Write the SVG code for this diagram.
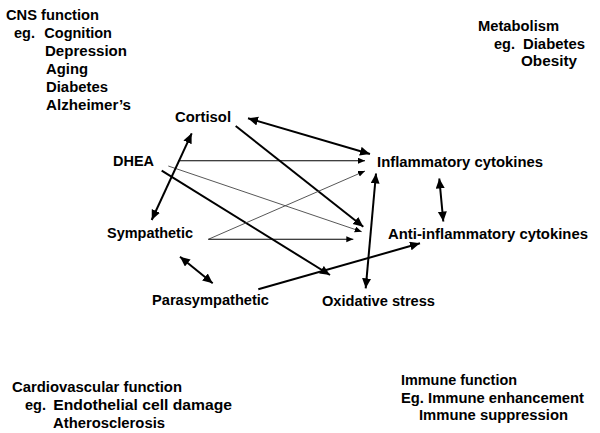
<svg xmlns="http://www.w3.org/2000/svg" width="600" height="433" viewBox="0 0 600 433">
<style>
text{font-family:"Liberation Sans",Arial,Helvetica,sans-serif;font-weight:bold;font-size:14.5px;fill:#000}
.thick{stroke:#000;stroke-width:2;fill:none}
.thin{stroke:#000;stroke-width:1.1;fill:none}
.gray{stroke:#444;stroke-width:0.9;fill:none}
</style>
<defs>
<marker id="ah" markerUnits="userSpaceOnUse" markerWidth="11" markerHeight="10" refX="10" refY="4.5" orient="auto-start-reverse"><path d="M0,0 L10,4.5 L0,9 z" fill="#000"/></marker>
<marker id="as" markerUnits="userSpaceOnUse" markerWidth="8" markerHeight="7" refX="7" refY="3" orient="auto"><path d="M0,0 L7,3 L0,6 z" fill="#000"/></marker>
</defs>
<rect width="600" height="433" fill="#fff"/>
<g id="connectors">
<line class="thick" x1="248" y1="118.3" x2="370" y2="154" marker-start="url(#ah)" marker-end="url(#ah)"/>
<line class="thick" x1="235.7" y1="126" x2="363.3" y2="226.7" marker-end="url(#ah)"/>
<line class="thin" x1="178.3" y1="160.7" x2="365" y2="160.7" marker-end="url(#as)"/>
<line class="gray" x1="168.3" y1="166" x2="361.7" y2="231.7" marker-end="url(#as)"/>
<line class="thick" x1="161.7" y1="170.7" x2="330" y2="275" marker-end="url(#ah)"/>
<line class="thick" x1="191.7" y1="133.3" x2="151.7" y2="220" marker-start="url(#ah)" marker-end="url(#ah)"/>
<line class="gray" x1="208.3" y1="239.3" x2="365" y2="171" marker-end="url(#as)"/>
<line class="thin" x1="208.3" y1="239.3" x2="353.3" y2="239.3" marker-end="url(#as)"/>
<line class="thick" x1="180" y1="256.7" x2="212.7" y2="283.3" marker-start="url(#ah)" marker-end="url(#ah)"/>
<line class="thick" x1="258.3" y1="289.3" x2="420" y2="243.3" marker-end="url(#ah)"/>
<line class="thick" x1="376" y1="173.5" x2="365.7" y2="288.3" marker-start="url(#ah)" marker-end="url(#ah)"/>
<line class="thick" x1="439.3" y1="178.5" x2="443.3" y2="221.5" marker-start="url(#ah)" marker-end="url(#ah)"/>
</g>
<g id="cortisol"><text x="175" y="121.7" textLength="56" lengthAdjust="spacingAndGlyphs">Cortisol</text></g>
<g id="dhea"><text x="113" y="166" textLength="41" lengthAdjust="spacingAndGlyphs">DHEA</text></g>
<g id="sympathetic"><text x="107" y="238.3" textLength="86" lengthAdjust="spacingAndGlyphs">Sympathetic</text></g>
<g id="parasympathetic"><text x="152" y="305" textLength="117" lengthAdjust="spacingAndGlyphs">Parasympathetic</text></g>
<g id="inflammatory"><text x="377" y="166.7" textLength="166" lengthAdjust="spacingAndGlyphs">Inflammatory cytokines</text></g>
<g id="anti-inflammatory"><text x="388" y="238.5" textLength="200" lengthAdjust="spacingAndGlyphs">Anti-inflammatory cytokines</text></g>
<g id="oxidative"><text x="322" y="306" textLength="113" lengthAdjust="spacingAndGlyphs">Oxidative stress</text></g>
<g id="cns">
<text x="6" y="19.5" textLength="93" lengthAdjust="spacingAndGlyphs">CNS function</text>
<text x="14" y="38"><tspan x="14">eg.</tspan><tspan x="44.3" textLength="67.7" lengthAdjust="spacingAndGlyphs">Cognition</tspan></text>
<text x="45" y="56" textLength="82" lengthAdjust="spacingAndGlyphs">Depression</text>
<text x="46" y="74" textLength="42" lengthAdjust="spacingAndGlyphs">Aging</text>
<text x="46" y="92" textLength="62" lengthAdjust="spacingAndGlyphs">Diabetes</text>
<text x="46" y="110" textLength="85" lengthAdjust="spacingAndGlyphs">Alzheimer’s</text>
</g>
<g id="metabolism">
<text x="478" y="31" textLength="81" lengthAdjust="spacingAndGlyphs">Metabolism</text>
<text x="494" y="49"><tspan x="494">eg.</tspan><tspan x="523" textLength="62" lengthAdjust="spacingAndGlyphs">Diabetes</tspan></text>
<text x="521" y="66" textLength="56" lengthAdjust="spacingAndGlyphs">Obesity</text>
</g>
<g id="cardiovascular">
<text x="12" y="391.5" textLength="170" lengthAdjust="spacingAndGlyphs">Cardiovascular function</text>
<text x="25" y="410"><tspan x="25">eg.</tspan><tspan x="53.3" textLength="178.7" lengthAdjust="spacingAndGlyphs">Endothelial cell damage</tspan></text>
<text x="53" y="427.5" textLength="112" lengthAdjust="spacingAndGlyphs">Atherosclerosis</text>
</g>
<g id="immune">
<text x="401" y="384.5" textLength="116" lengthAdjust="spacingAndGlyphs">Immune function</text>
<text x="401" y="402.5" textLength="183" lengthAdjust="spacingAndGlyphs">Eg. Immune enhancement</text>
<text x="419" y="420" textLength="149" lengthAdjust="spacingAndGlyphs">Immune suppression</text>
</g>
</svg>
